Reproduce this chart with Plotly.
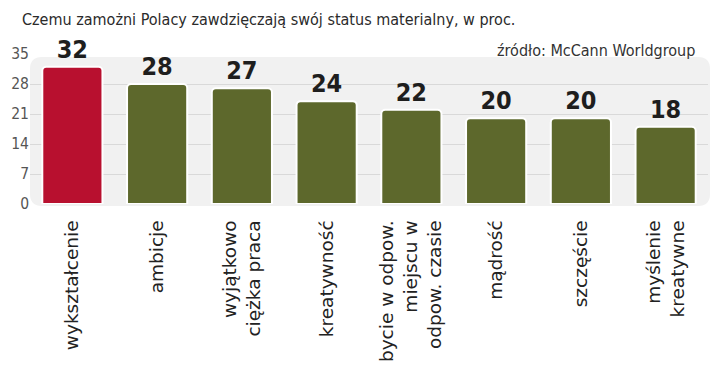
import plotly.graph_objects as go

categories = ["wykształcenie", "ambicje", "wyjątkowo<br>ciężka praca", "kreatywność",
              "bycie w odpow.<br>miejscu w<br>odpow. czasie", "mądrość", "szczęście",
              "myślenie<br>kreatywne"]
values = [32, 28, 27, 24, 22, 20, 20, 18]
highlight = [True, False, False, False, False, False, False, False]
y_ticks = [0, 7, 14, 21, 28, 35]

title_text = "Czemu zamożni Polacy zawdzięczają swój status materialny, w proc."
source_text = "źródło: McCann Worldgroup"

RED = "#b8102f"
OLIVE = "#5d682c"
colors = [RED if h else OLIVE for h in highlight]
COND = "DejaVu Sans Condensed, Roboto, sans-serif"

# page has an 8px body margin, so the figure is sized to fit the 720x380 window
W, H = 712, 372
ml, mr, mt, mb = 22, 12, 46, 176
pw, ph = W - ml - mr, H - mt - mb

fig = go.Figure(go.Bar(
    x=list(range(len(categories))), y=values,
    marker=dict(color=colors, line=dict(color="white", width=2), cornerradius=4),
    text=[str(v) for v in values], textposition="outside",
    textfont=dict(family=COND, size=25, color="#1e1e1e", weight="bold"),
    cliponaxis=False, width=0.71,
))

# rounded background panel
r = 12
rx, ry = r / pw, r / ph
x0, x1, y0, y1 = 0, 1 + 2 / pw, -2 / ph, 1 - 3 / ph
path = (f"M {x0+rx},{y0} L {x1-rx},{y0} Q {x1},{y0} {x1},{y0+ry} L {x1},{y1-ry} "
        f"Q {x1},{y1} {x1-rx},{y1} L {x0+rx},{y1} Q {x0},{y1} {x0},{y1-ry} "
        f"L {x0},{y0+ry} Q {x0},{y0} {x0+rx},{y0} Z")

fig.update_layout(
    width=W, height=H,
    margin=dict(l=ml, r=mr, t=mt, b=mb, autoexpand=False),
    paper_bgcolor="white", plot_bgcolor="rgba(0,0,0,0)",
    showlegend=False,
    shapes=[dict(type="path", path=path, xref="paper", yref="paper",
                 fillcolor="#f1f1f1", line=dict(width=0), layer="below")],
    title=dict(text=title_text, x=14 / W, xref="container", xanchor="left",
               y=1 - 11 / H, yref="container", yanchor="middle",
               font=dict(family=COND, size=16, color="#2a2a2a")),
    annotations=[dict(text=source_text, xref="paper", yref="paper",
                      x=(689 - ml) / pw, y=1 + 4 / ph, xanchor="right", yanchor="middle",
                      showarrow=False,
                      font=dict(family=COND, size=16, color="#333"))],
    xaxis=dict(tickmode="array", tickvals=list(range(len(categories))), ticktext=categories,
               range=[-0.5, len(categories) - 0.5], tickangle=-90,
               tickfont=dict(family="DejaVu Sans", size=18.5, color="#222"),
               showgrid=False, zeroline=False, showline=False,
               ticks="outside", ticklen=8, tickcolor="rgba(0,0,0,0)"),
    yaxis=dict(range=[0, 35], tickmode="array", tickvals=y_ticks,
               tickfont=dict(family=COND, size=15.5, color="#555"),
               showgrid=True, gridcolor="#d9d9d9", gridwidth=1,
               zeroline=False, showline=False, ticks=""),
    bargap=0.29,
)

fig.write_html("out.html")
